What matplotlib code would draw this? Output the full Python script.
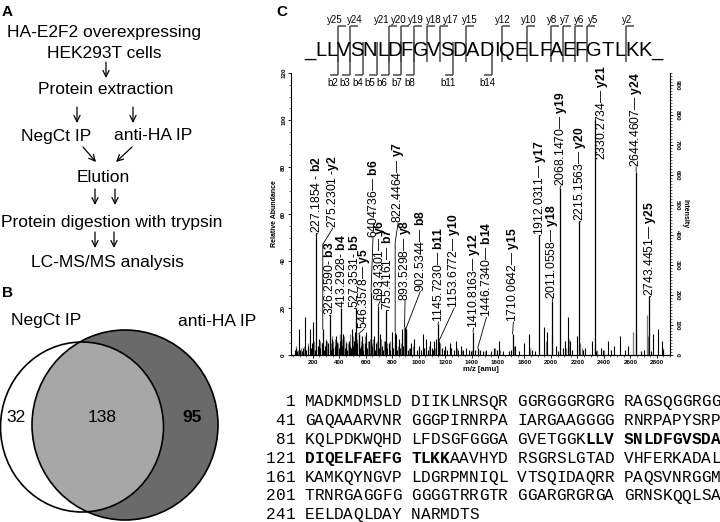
import matplotlib
matplotlib.use('Agg')
import matplotlib.pyplot as plt
from matplotlib.patches import Ellipse
from matplotlib.ticker import MultipleLocator

plt.rcParams['font.family'] = ['Liberation Sans', 'DejaVu Sans']
plt.rcParams['mathtext.fontset'] = 'custom'
plt.rcParams['mathtext.rm'] = 'Liberation Sans'
plt.rcParams['mathtext.bf'] = 'Liberation Sans:bold'

# ---------------- data ----------------
flow_text = ['HA-E2F2 overexpressing', 'HEK293T cells', 'Protein extraction',
             'NegCt IP', 'anti-HA IP', 'Elution',
             'Protein digestion with trypsin', 'LC-MS/MS analysis']

venn_names = ['NegCt IP', 'anti-HA IP']
venn_counts = [32, 138, 95]   # NegCt only, both, anti-HA only

peptide = 'LLVSNLDFGVSDADIQELFAEFGTLKK'
y_ions = [25, 24, 21, 20, 19, 18, 17, 15, 12, 10, 8, 7, 6, 5, 2]
b_ions = [2, 3, 4, 5, 6, 7, 8, 11, 14]

ion_mz = [227.1854, 275.2301, 326.2590, 413.2928, 527.3531, 546.3578, 640.4736,
          693.4301, 755.4161, 822.4464, 893.5298, 902.5344, 1145.7230, 1153.6772,
          1410.8163, 1446.7340, 1710.0642, 1912.0311, 2011.0558, 2068.1470,
          2215.1563, 2330.2734, 2644.4607, 2743.4451]
ion_name = ['b2', 'y2', 'b3', 'b4', 'b5', 'y5', 'b6', 'y6', 'b7', 'y7', 'y8', 'b8',
            'b11', 'y10', 'y12', 'b14', 'y15', 'y17', 'y18', 'y19', 'y20', 'y21',
            'y24', 'y25']
ion_text = ['227.1854 - ', '275.2301 -', '326.2590- ', '413.2928- ', '527.3531- ',
            '546.3578\u2014 ', '6404736\u2014 ', '693.4301\u2014 ', '755.4161\u2014 ',
            '822.4464\u2014 ', '893.5298\u2014 ', '902.5344\u2014 ', '1145.7230\u2014 ',
            '1153.6772\u2014 ', '1410.8163\u2014 ', '1446.7340\u2014 ', '1710.0642\u2014 ',
            '1912.0311\u2014 ', '2011.0558\u2014 ', '2068.1470\u2014 ', '2215.1563\u2014 ',
            '2330.2734\u2014 ', '2644.4607\u2014 ', '2743.4451\u2014 ']
ion_rel = [52, 11, 17, 20, 20, 9, 27, 21, 19, 10, 12, 11, 13, 6, 10, 3, 9, 51, 23,
           71, 57, 100, 78, 25]

# label placement (m/z, % bottom, elbow %)
label_x = [230, 351, 326, 413, 515, 586, 655, 709, 768, 844, 897, 1012, 1150, 1269,
           1415, 1512, 1716, 1915, 2011, 2075, 2220, 2384, 2644, 2748]
label_y = [52, 54, 17, 20, 20, 11, 50, 23, 19, 56, 23, 27, 14, 20, 11.5, 16, 14,
           51, 24, 72, 57, 83, 80, 25]
label_elbow = [52, 47, 17, 20, 20, 9, 27, 21, 19, 48, 12, 11, 13, 6, 10, 3, 9,
               51, 23, 71, 57, None, 78, 25]

black_mz = [62, 76, 84, 94, 105, 118, 128, 140, 152, 160, 177, 188, 196, 203, 214,
            236, 247, 258, 266, 284, 292, 302, 312, 318, 338, 347, 356, 364, 372,
            382, 398, 404, 422, 430, 440, 448, 458, 470, 478, 486, 495, 504, 512,
            520, 536, 556, 566, 573, 582, 592, 603, 612, 622, 648, 660, 668, 676,
            702, 710, 720, 730, 742, 764, 774, 786, 800, 808, 826, 838, 851, 862,
            876, 884, 916, 932, 944, 965, 984, 1004, 1016, 1030, 1044, 1056, 1068,
            1086, 1098, 1108, 1119, 1132, 1177, 1188, 1202, 1218, 1234, 1248, 1266,
            1285, 1300, 1323, 1338, 1360, 1378, 1396, 1426, 1467, 1486, 1512, 1546,
            1568, 1590, 1605, 1640, 1682, 1700, 1732, 1760, 1795, 1833, 1860, 1880,
            1945, 1970, 2040, 2056, 2092, 2107, 2128, 2145, 2160, 2195, 2244, 2260,
            2308, 2340, 2375, 2390, 2432, 2456, 2475, 2520, 2560, 2583, 2677, 2700,
            2760, 2775, 2813, 2838, 2850]
black_rel = [2, 3, 1.5, 11, 2, 1.5, 3, 16, 2, 4, 11, 3, 5, 14, 2,
             4, 7, 3, 5, 2, 4, 6, 3, 5, 2, 7, 3, 4, 8,
             5, 3, 6, 4, 9, 3, 5, 2, 6, 4, 3, 11, 4, 6,
             10, 5, 3, 4, 8, 2, 5, 10, 3, 6, 4, 8, 2, 5,
             3, 9, 4, 2, 6, 3, 5, 2, 10, 3, 9, 2, 7, 3,
             11, 4, 2, 3, 5, 7, 2, 4, 2, 9, 3, 7, 2,
             6, 3, 2, 6, 7, 3, 2, 4, 2, 5, 3, 2,
             6, 2, 4, 2, 3, 2, 1.5, 2, 2, 1.5, 2, 1.5,
             3, 2, 6, 1.5, 1.5, 2, 4, 1.5, 5, 9, 2, 1.5,
             12, 10, 4, 1.5, 3, 6, 16, 6, 2, 8, 2, 3,
             6, 1.5, 3, 2, 6, 2, 4, 8, 2, 4, 1.5, 2,
             1.5, 9, 11, 6, 2]
gray_mz = [70, 88, 112, 134, 166, 182, 208, 222, 252, 272, 296, 308, 334, 342, 352,
           368, 386, 394, 408, 418, 436, 452, 464, 482, 500, 516, 532, 548, 562,
           578, 598, 618, 632, 644, 656, 684, 696, 714, 736, 758, 782, 796, 818,
           846, 870, 890, 906, 930, 958, 1000, 1040, 1080, 1124, 1160, 1196, 1240,
           1290, 1330, 1404, 1450, 1500, 1580, 1612, 1720, 1845, 1960, 2008, 2116,
           2136, 2222, 2236, 2330, 2350, 2400, 2621, 2640, 2725, 2730, 2845]
gray_rel = [4, 2, 3, 4, 5, 3, 6, 4, 6, 5, 7, 6, 5, 8, 6,
            7, 6, 5, 9, 7, 8, 6, 5, 9, 8, 6, 7, 9, 6,
            5, 8, 6, 7, 5, 7, 6, 5, 7, 6, 5, 6, 4, 5,
            4, 5, 12, 11, 3, 4, 3, 3, 4, 3, 5, 3, 4,
            3, 2, 2, 2, 1.5, 3, 2, 4, 3, 6, 8.5, 3,
            7, 5, 3, 3, 2, 2, 10, 9, 17, 8, 3]

protein = ('MADKMDMSLDDIIKLNRSQRGGRGGGRGRGRAGSQGGRGG'
           'GAQAAARVNRGGGPIRNRPAIARGAAGGGGRNRPAPYSRP'
           'KQLPDKWQHDLFDSGFGGGAGVETGGKLLVSNLDFGVSDA'
           'DIQELFAEFGTLKKAAVHYDRSGRSLGTADVHFERKADAL'
           'KAMKQYNGVPLDGRPMNIQLVTSQIDAQRRPAQSVNRGGM'
           'TRNRGAGGFGGGGGTRRGTRGGARGRGRGAGRNSKQQLSA'
           'EELDAQLDAYNARMDTS')

# ---------------- figure ----------------
fig = plt.figure(figsize=(7.2, 5.22), dpi=100)
bg = fig.add_axes([0, 0, 1, 1])
bg.set_xlim(0, 720)
bg.set_ylim(522, 0)
bg.axis('off')

# panel letters
for letter, (lx, ly) in zip('ABC', [(2, 12), (2, 293), (276, 12)]):
    bg.text(lx, ly, letter, fontsize=11, fontweight='bold', va='center', ha='left')

# panel A flow chart
fs_flow = 12.5
flow_pos = [(104, 33), (104, 53), (106, 89), (56, 136), (153, 136), (103, 178),
            (112, 223), (107, 262)]
for t, (tx, ty) in zip(flow_text, flow_pos):
    bg.text(tx, ty, t, fontsize=fs_flow, ha='center', va='center')

arrows = [((106, 62), (106, 78)),
          ((77, 107), (77, 123)), ((133, 107), (133, 123)),
          ((83, 147), (96, 162)), ((132, 147), (116, 162)),
          ((95, 189), (95, 205)), ((115, 189), (115, 205)),
          ((95, 232), (95, 248)), ((114, 232), (114, 248))]
for (x1, y1), (x2, y2) in arrows:
    bg.annotate('', xy=(x2, y2), xytext=(x1, y1),
                arrowprops=dict(arrowstyle='->', lw=0.9, color='black',
                                mutation_scale=11, shrinkA=0, shrinkB=0))

# panel B venn
dark = Ellipse((125, 425), 186, 190, facecolor='#6a6a6a', edgecolor='none')
bg.add_patch(dark)
bg.add_patch(Ellipse((82, 427), 163, 170, facecolor='white', edgecolor='none'))
inter = Ellipse((82, 427), 163, 170, facecolor='#a7a7a7', edgecolor='none')
bg.add_patch(inter)
inter.set_clip_path(dark)
bg.add_patch(Ellipse((125, 425), 186, 190, facecolor='none', edgecolor='black', lw=1.2))
bg.add_patch(Ellipse((82, 427), 163, 170, facecolor='none', edgecolor='black', lw=1.2))
bg.text(46, 321, venn_names[0], fontsize=fs_flow, ha='center', va='center')
bg.text(217, 321, venn_names[1], fontsize=fs_flow, ha='center', va='center')
bg.text(16, 418, str(venn_counts[0]), fontsize=fs_flow, ha='center', va='center')
bg.text(102, 418, str(venn_counts[1]), fontsize=fs_flow, ha='center', va='center')
bg.text(192, 418, str(venn_counts[2]), fontsize=fs_flow, ha='center', va='center',
        fontweight='bold')

# panel C peptide with fragment brackets (letter centres in pixels)
pep_str = '_' + peptide + '_'
letter_x = [310, 321, 331.7, 343.3, 356.7, 370, 383, 395, 407, 420.7, 433.7, 446.7,
            460, 472.3, 486.7, 496.7, 507.3, 520.7, 533.3, 545.3, 556.7, 569, 580.7,
            594, 607.3, 620, 631.7, 645, 656.7]
for ch, lx in zip(pep_str, letter_x):
    bg.text(lx, 51, ch, fontsize=14.5, ha='center', va='center')

# fragment label centres (pixels), spread out as in the original
y_label_x = [335, 355, 382, 399, 416, 434, 451, 470, 503, 529, 552, 565, 579, 593, 627]
b_label_x = [333, 345, 358, 370, 382, 397, 410, 448, 487]


def boundary(k):
    # x (pixels) between residue k and k+1 of the peptide
    return (letter_x[k] + letter_x[k + 1]) / 2.0


br_col = '#4a4a4a'
for n, tx in zip(y_ions, y_label_x):
    bx = boundary(len(peptide) - n)
    bg.plot([bx, bx], [26, 62], color=br_col, lw=1.1, solid_capstyle='butt')
    bg.plot([bx, bx + 8], [26, 26], color=br_col, lw=1.1, solid_capstyle='butt')
    bg.text(tx, 20, 'y%d' % n, fontsize=7, ha='center', va='center')
for n, tx in zip(b_ions, b_label_x):
    bx = boundary(n)
    bg.plot([bx, bx], [42, 75], color=br_col, lw=1.1, solid_capstyle='butt')
    bg.plot([bx - 8, bx], [75, 75], color=br_col, lw=1.1, solid_capstyle='butt')
    bg.text(tx, 83, 'b%d' % n, fontsize=7, ha='center', va='center')

# protein sequence
start = protein.find(peptide)
bold_idx = set(range(start, start + len(peptide)))
seq_fs = 11.6
cw = 0.6 * seq_fs * 100 / 72.0
for row in range(0, len(protein), 40):
    yy = 402 + (row // 40) * 18.8
    line = '%3d ' % (row + 1)
    for i, ch in enumerate(line):
        bg.text(266 + i * cw, yy, ch, fontsize=seq_fs, family='Liberation Mono',
                ha='left', va='center')
    col = len(line)
    for j in range(row, min(row + 40, len(protein))):
        if j > row and (j - row) % 10 == 0:
            col += 1
        bg.text(266 + col * cw, yy, protein[j], fontsize=seq_fs,
                family='Liberation Mono', ha='left', va='center',
                fontweight='bold' if j in bold_idx else 'normal')
        col += 1

# spectrum
ax = fig.add_axes([291 / 720, (522 - 355) / 522, (670 - 291) / 720, (355 - 73) / 522])
ax.patch.set_alpha(0)
ax.vlines(gray_mz, 0, gray_rel, color='#7a7a7a', lw=0.9)
ax.vlines(black_mz, 0, black_rel, color='black', lw=0.8)
ax.vlines(ion_mz, 0, ion_rel, color='black', lw=0.9)
ax.set_xlim(35, 2900)
ax.set_ylim(0, 120)
ax.spines['top'].set_visible(False)
ax.spines['right'].set_visible(False)
ax.xaxis.set_minor_locator(MultipleLocator(50))
ax.yaxis.set_major_locator(MultipleLocator(20))
ax.yaxis.set_minor_locator(MultipleLocator(5))
ax.set_xticks(range(200, 2900, 200))
ax.tick_params(axis='both', which='major', length=2.5, width=0.6, labelsize=4.5, pad=1)
ax.tick_params(axis='both', which='minor', length=1.2, width=0.4)
for lab in ax.get_xticklabels():
    lab.set_fontweight('bold')
for lab in ax.get_yticklabels():
    lab.set_rotation(90)
    lab.set_va('center')
    lab.set_fontweight('bold')
ax.set_xlabel('m/z [amu]', fontsize=5.5, fontweight='bold', labelpad=1)
ax.set_ylabel('Relative Abundance', fontsize=5, fontweight='bold', labelpad=2)

ax2 = ax.twinx()
ax2.set_ylim(0, 940)
ax2.spines['top'].set_visible(False)
ax2.spines['left'].set_visible(False)
ax2.yaxis.set_minor_locator(MultipleLocator(10))
ax2.set_yticks(range(0, 1000, 100))
ax2.tick_params(axis='y', which='major', length=2.5, width=0.6, labelsize=4.5, pad=1)
ax2.tick_params(axis='y', which='minor', length=1.2, width=0.4)
for lab in ax2.get_yticklabels():
    lab.set_rotation(-90)
    lab.set_va('center')
    lab.set_fontweight('bold')
ax2.set_ylabel('Intensity', fontsize=5, fontweight='bold', rotation=-90, labelpad=6)

for mz, rel, name, txt, lx, ly, el in zip(ion_mz, ion_rel, ion_name, ion_text,
                                          label_x, label_y, label_elbow):
    if el is not None:
        ax.plot([mz, mz, lx], [rel, el, ly], color='black', lw=0.6)
    ax.text(lx, ly, txt + r'$\mathbf{%s}$' % name, rotation=90, fontsize=8.7,
            ha='center', va='bottom')

fig.savefig('out.png', dpi=100)
